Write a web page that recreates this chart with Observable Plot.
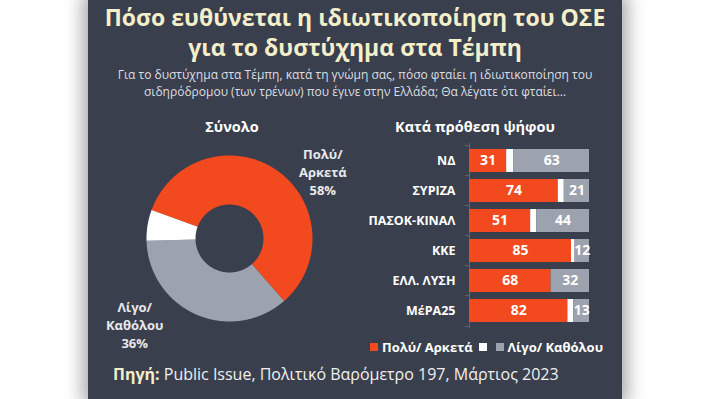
<!DOCTYPE html>
<html><head><meta charset="utf-8">
<script src="https://cdn.jsdelivr.net/npm/d3@7"></script>
<script src="https://cdn.jsdelivr.net/npm/@observablehq/plot@0.6"></script>
<style>
html,body{margin:0;padding:0;background:#fff;width:710px;height:399px;overflow:hidden;}
#panel{position:absolute;left:88px;top:0;width:534px;height:399px;background:#3a3f4d;box-shadow:0 0 16px 6px rgba(0,0,0,0.33);font-family:"Open Sans",sans-serif;}
.abs{position:absolute;}
#title{left:0;top:2px;width:534px;text-align:center;font-weight:700;font-size:23px;line-height:30px;color:#f3efca;white-space:nowrap;}
#subtitle{left:0;top:66px;width:534px;text-align:center;font-size:12px;line-height:17px;color:#dedfe2;white-space:nowrap;}
.head{font-weight:700;font-size:14.5px;color:#fff;white-space:nowrap;transform:translateX(-50%);}
#legend{left:282px;top:338px;display:flex;align-items:center;font-weight:700;font-size:13px;color:#fff;white-space:nowrap;}
#legend .sw{width:8px;height:8px;display:inline-block;margin-right:4px;}
#source{left:25px;top:363px;font-size:16px;color:#f0f0f0;white-space:nowrap;}
#source b{color:#f3efca;}
svg{overflow:visible;}
</style>
</head><body>
<div id="panel">
  <div id="title" class="abs">Πόσο ευθύνεται η ιδιωτικοποίηση του ΟΣΕ<br>για το δυστύχημα στα Τέμπη</div>
  <div id="subtitle" class="abs">Για το δυστύχημα στα Τέμπη, κατά τη γνώμη σας, πόσο φταίει η ιδιωτικοποίηση του<br>σιδηρόδρομου (των τρένων) που έγινε στην Ελλάδα; Θα λέγατε ότι φταίει…</div>
  <div class="abs head" style="left:144px;top:117px;">Σύνολο</div>
  <div class="abs head" style="left:387px;top:117px;">Κατά πρόθεση ψήφου</div>
  <div id="donut" class="abs" style="left:1px;top:118px;"></div>
  <div id="bars" class="abs" style="left:252px;top:133px;"></div>
  <div id="legend" class="abs"></div>
  <div id="source" class="abs"><b>Πηγή:</b> Public Issue, Πολιτικό Βαρόμετρο 197, Μάρτιος 2023</div>
</div>
<script>
// ---- data ----
const categories = ["Πολύ/ Αρκετά", "ΔΞ/ΔΑ", "Λίγο/ Καθόλου"];
const legendLabels = ["Πολύ/ Αρκετά", "", "Λίγο/ Καθόλου"];
const totalOrder = ["Πολύ/ Αρκετά", "Λίγο/ Καθόλου", "ΔΞ/ΔΑ"];
const totalValues = [58, 36, 6];
const totalLabels = ["Πολύ/\nΑρκετά\n58%", "Λίγο/\nΚαθόλου\n36%", ""];
const parties = ["ΝΔ", "ΣΥΡΙΖΑ", "ΠΑΣΟΚ-ΚΙΝΑΛ", "ΚΚΕ", "ΕΛΛ. ΛΥΣΗ", "ΜέΡΑ25"];
const polyArketa = [31, 74, 51, 85, 68, 82];
const dxda = [6, 5, 5, 3, 0, 5];
const ligoKatholou = [63, 21, 44, 12, 32, 13];

const colors = ["#f2491e", "#ffffff", "#9ca2ae"];
const colorScale = {domain: categories, range: colors};

// ---- donut ----
const R1 = 83, R0 = 34;
const start = -70 * Math.PI / 180;
const nudge = {"Πολύ/ Αρκετά": [30, -25], "Λίγο/ Καθόλου": [-50, 17], "ΔΞ/ΔΑ": [0, 0]};
const ring = [], labels = [];
let a = start;
totalOrder.forEach((c, i) => {
  const span = totalValues[i] / 100 * 2 * Math.PI;
  const a0 = a, a1 = a + span;
  const n = Math.max(2, Math.ceil(span / 0.01));
  for (let k = 0; k <= n; k++) { const t = a0 + span * k / n; ring.push({cat: c, x: R1 * Math.sin(t), y: R1 * Math.cos(t)}); }
  for (let k = n; k >= 0; k--) { const t = a0 + span * k / n; ring.push({cat: c, x: R0 * Math.sin(t), y: R0 * Math.cos(t)}); }
  const m = (a0 + a1) / 2;
  labels.push({cat: c, text: totalLabels[i], x: 112 * Math.sin(m) + nudge[c][0], y: 112 * Math.cos(m) + nudge[c][1]});
  a = a1;
});
const donut = Plot.plot({
  width: 280, height: 240, margin: 0,
  x: {domain: [-140, 140], axis: null},
  y: {domain: [-120, 120], axis: null},
  color: colorScale,
  style: {background: "transparent", fontFamily: "Open Sans"},
  marks: [
    Plot.line(ring, {x: "x", y: "y", z: "cat", fill: "cat", stroke: "none", curve: "linear-closed"}),
    Plot.text(labels.filter(d => d.text), {x: "x", y: "y", text: "text",
      fill: "#e8e9ec", fontSize: 13, fontWeight: 700, lineHeight: 1.42})
  ]
});
document.getElementById("donut").appendChild(donut);

// ---- bars ----
const rows = [];
parties.forEach((p, i) => {
  rows.push({party: p, cat: categories[0], value: polyArketa[i]});
  rows.push({party: p, cat: categories[1], value: dxda[i]});
  rows.push({party: p, cat: categories[2], value: ligoKatholou[i]});
});
const H = 205, mt = 10, mb = 10;
const step = (H - mt - mb) / parties.length;
const bars = Plot.plot({
  width: 250, height: H, marginLeft: 129, marginRight: 1, marginTop: mt, marginBottom: mb,
  x: {domain: [0, 100], axis: null},
  y: {domain: parties, paddingInner: 0.24, paddingOuter: 0.12, label: null},
  color: colorScale,
  style: {background: "transparent", fontFamily: "Open Sans"},
  marks: [
    Plot.axisY({tickSize: 0, tickPadding: 14, fontSize: 12.5, fontWeight: 700, fill: "#ffffff"}),
    Plot.ruleX([0], {stroke: "#5f6573"}),
    Plot.ruleY(parties, {y: d => d, x1: -3.5, x2: 0, dy: -step / 2, stroke: "#5f6573"}),
    Plot.ruleY(parties.slice(-1), {y: d => d, x1: -3.5, x2: 0, dy: step / 2, stroke: "#5f6573"}),
    Plot.barX(rows, Plot.stackX({x: "value", y: "party", fill: "cat", order: categories})),
    Plot.text(rows, Plot.stackX({x: "value", y: "party", z: "cat", order: categories,
      text: d => d.cat === categories[1] ? "" : String(d.value),
      fill: "#ffffff", fontSize: 14, fontWeight: 700}))
  ]
});
document.getElementById("bars").appendChild(bars);

// ---- legend ----
const lg = document.getElementById("legend");
categories.forEach((c, i) => {
  const sw = document.createElement("span");
  sw.className = "sw"; sw.style.background = colors[i];
  lg.appendChild(sw);
  const t = document.createElement("span");
  t.textContent = legendLabels[i];
  t.style.marginRight = legendLabels[i] ? "6px" : "5px";
  lg.appendChild(t);
});
</script>
</body></html>
